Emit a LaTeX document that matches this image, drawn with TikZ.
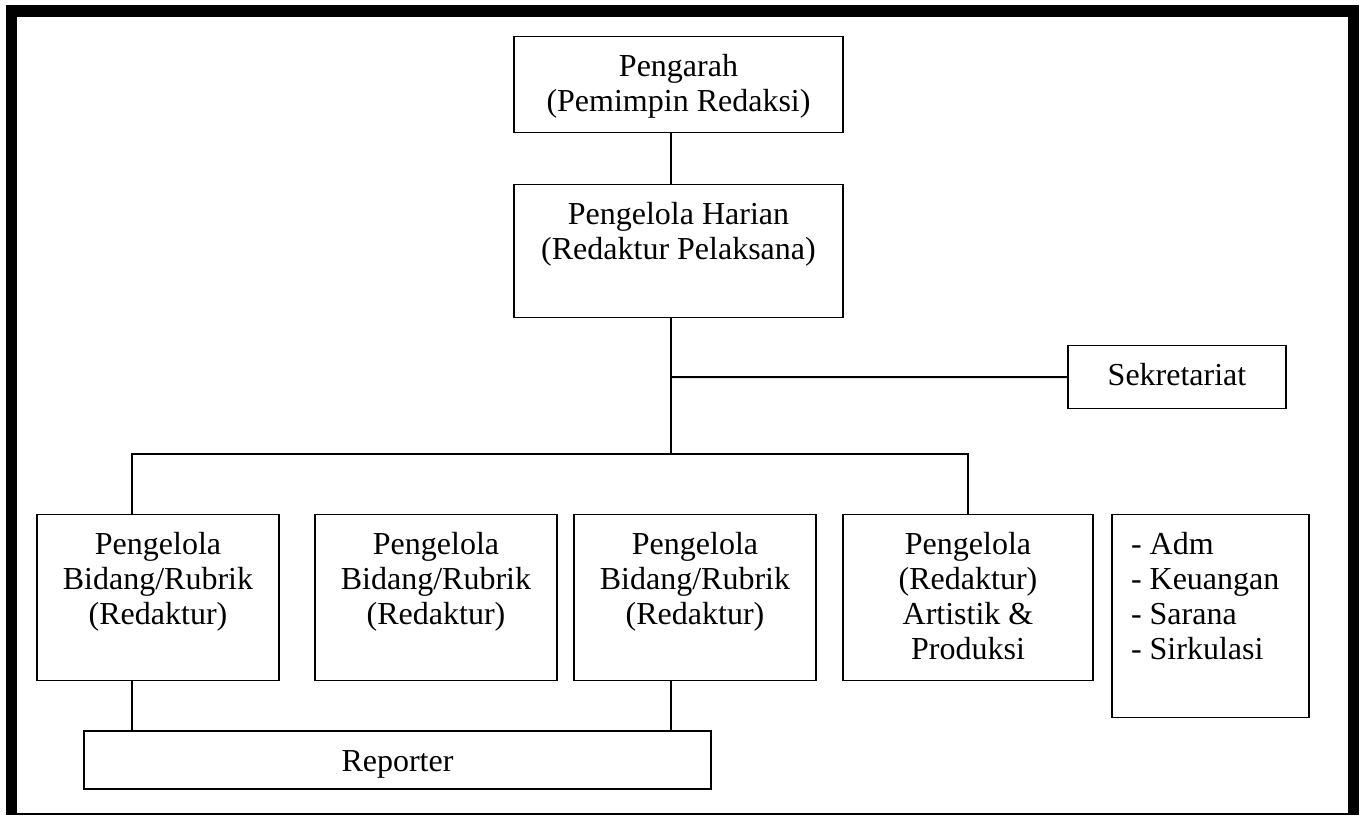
\documentclass[tikz,border=0pt]{standalone}
\usepackage{fontspec}
\setmainfont{Liberation Serif}
\usetikzlibrary{positioning, calc}

\newcommand{\stack}[1]{\begin{tabular}[t]{@{}c@{}}#1\end{tabular}}
\newcommand{\leftstack}[2]{\makebox[#1][l]{\begin{tabular}[t]{@{}l@{}}#2\end{tabular}}}

\begin{document}
\begin{tikzpicture}[x=0.5pt, y=-0.5pt,
    unit/.style={draw, line width=0.7pt, anchor=north, inner xsep=0pt, inner ysep=0pt,
      text height=20pt, font=\fontsize{16}{17.5}\selectfont},
    link/.style={line width=1pt}]
    \useasboundingbox (0, 0) rectangle (1366, 815);

    \fill (6, 5) rectangle (1359, 17);
    \fill (6, 5) rectangle (17, 815);
    \fill (1348, 5) rectangle (1359, 815);
    \draw[line width=0.6pt] (17, 814) -- (1348, 814);

    \node[unit, minimum width=164.5pt, text depth=28pt] (pengarah) at (678.5, 36) {\stack{Pengarah\\(Pemimpin Redaksi)}};
    \node[unit, minimum width=164.5pt, text depth=46.5pt] (harian) at (678.5, 184) {\stack{Pengelola Harian\\(Redaktur Pelaksana)}};
    \node[unit, minimum width=109pt, text depth=11.5pt] (sekretariat) at (1177, 345) {Sekretariat};

    \node[unit, minimum width=121pt, text depth=63pt] (rubrik1) at (158, 514) {\stack{Pengelola\\Bidang/Rubrik\\(Redaktur)}};
    \node[unit, minimum width=121pt, text depth=63pt] (rubrik2) at (436, 514) {\stack{Pengelola\\Bidang/Rubrik\\(Redaktur)}};
    \node[unit, minimum width=121pt, text depth=63pt] (rubrik3) at (695, 514) {\stack{Pengelola\\Bidang/Rubrik\\(Redaktur)}};
    \node[unit, minimum width=125pt, text depth=63pt] (artistik) at (968, 514) {\stack{Pengelola\\(Redaktur)\\Artistik \&\\Produksi}};
    \node[unit, minimum width=98.5pt, text depth=81.5pt] (umum) at (1210.5, 514) {\leftstack{79.5pt}{- Adm\\- Keuangan\\- Sarana\\- Sirkulasi}};

    \node[unit, line width=1pt, minimum width=313.5pt, text depth=9pt] (reporter) at (397.5, 730) {Reporter};

    \coordinate (spine) at (671, 377);
    \coordinate (rail) at (671, 454);
    \coordinate (railleft) at (132, 454);

    \draw[link] (pengarah.south -| spine) -- (harian.north -| spine);
    \draw[link] (harian.south -| spine) -- (rail);
    \draw[link] (spine) -- (sekretariat.west);
    \draw[link] (rubrik1.north -| railleft) -- (railleft) -| (artistik.north);
    \draw[link] (rubrik1.south -| railleft) -- (reporter.north -| railleft);
    \draw[link] (rubrik3.south -| spine) -- (reporter.north -| spine);
\end{tikzpicture}
\end{document}
